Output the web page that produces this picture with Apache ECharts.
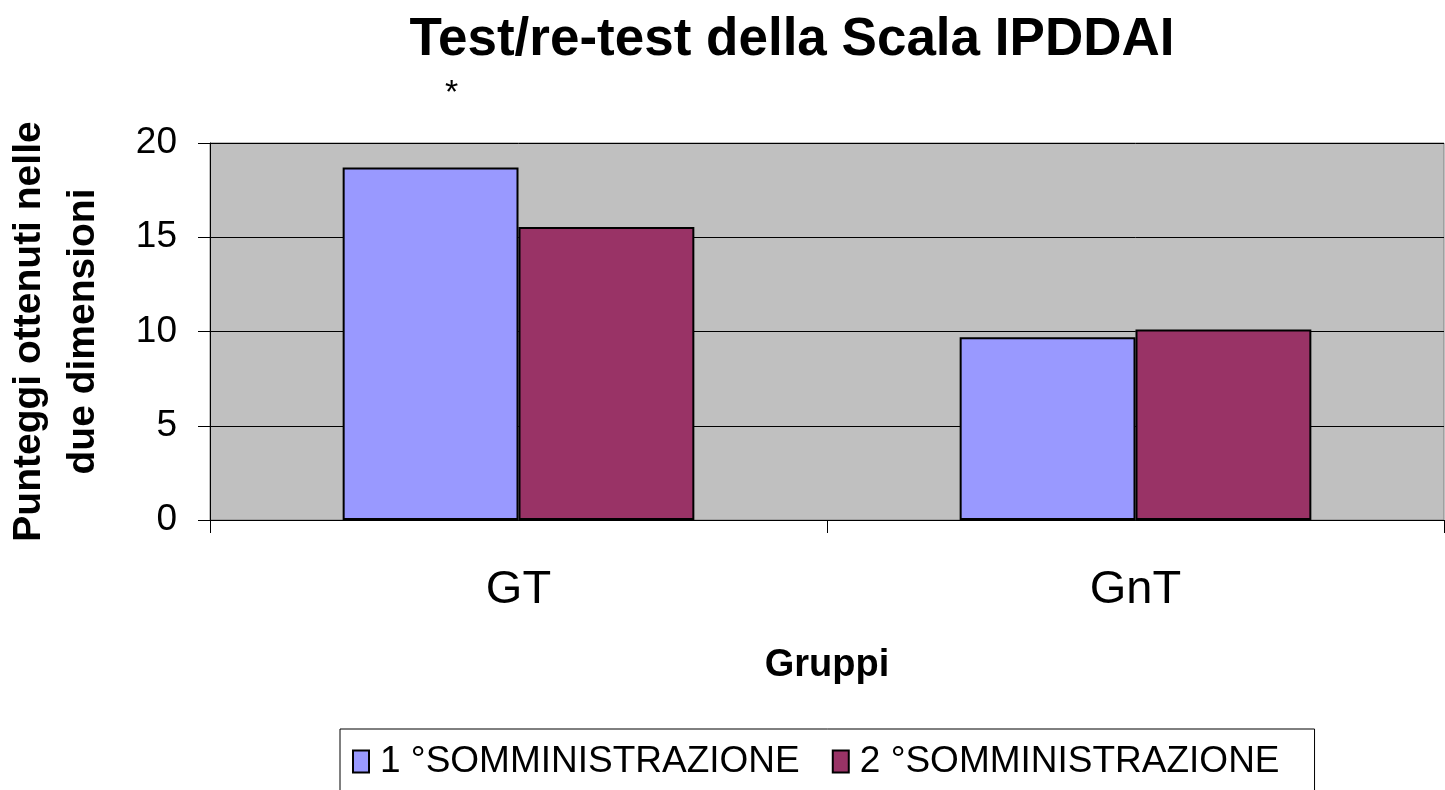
<!DOCTYPE html>
<html>
<head>
<meta charset="utf-8">
<script src="https://cdn.jsdelivr.net/npm/echarts@6/dist/echarts.min.js"></script>
<style>
  html, body { margin: 0; padding: 0; background: #fff; }
  #chart { width: 1445px; height: 790px; }
</style>
</head>
<body>
<div id="chart"></div>
<script>
// dati
const gruppi = ['GT', 'GnT']
const prima = [18.7, 9.7]
const seconda = [15.55, 10.1]
const nomiSerie = ['1 °SOMMINISTRAZIONE', '2 °SOMMINISTRAZIONE']

const chart = echarts.init(document.getElementById('chart'))
const font = 'Liberation Sans, Arial, sans-serif'

chart.setOption({
  animation: false,
  textStyle: { fontFamily: font },
  title: {
    text: 'Test/re-test della Scala IPDDAI',
    left: 787,
    textAlign: 'center',
    top: 9,
    textStyle: { fontSize: 53, fontWeight: 'bold', color: '#000', fontFamily: font }
  },
  graphic: [
    {
      type: 'text',
      left: 445,
      top: 77,
      style: { text: '*', fontSize: 34, fill: '#000', font: '34px ' + font }
    }
  ],
  grid: {
    left: 210,
    right: 1,
    top: 143,
    bottom: 270,
    outerBoundsMode: 'none',
    containLabel: false,
    show: true,
    backgroundColor: '#C0C0C0',
    borderColor: '#808080',
    borderWidth: 1
  },
  legend: {
    data: nomiSerie,
    left: 340,
    top: 729,
    padding: [14, 35, 24, 12],
    itemGap: 32,
    itemWidth: 16,
    itemHeight: 22,
    icon: 'rect',
    itemStyle: { borderColor: '#000', borderWidth: 2 },
    borderColor: '#000',
    borderWidth: 1,
    textStyle: { fontSize: 37, color: '#000', fontFamily: font, padding: [0, 0, 0, 6] }
  },
  xAxis: {
    type: 'category',
    data: gruppi,
    name: 'Gruppi',
    nameLocation: 'middle',
    nameGap: 127,
    nameTextStyle: { fontSize: 38, fontWeight: 'bold', color: '#000' },
    axisLine: { lineStyle: { color: '#000', width: 1 } },
    axisTick: { show: true, length: 13, lineStyle: { color: '#000' } },
    axisLabel: { fontSize: 47, color: '#000', margin: 47 }
  },
  yAxis: {
    type: 'value',
    min: 0,
    max: 20,
    interval: 5,
    name: 'Punteggi ottenuti nelle\ndue dimensioni',
    nameLocation: 'middle',
    nameGap: 100,
    nameTextStyle: { fontSize: 39, fontWeight: 'bold', color: '#000', lineHeight: 54 },
    axisLine: { show: true, lineStyle: { color: '#000', width: 1 } },
    axisTick: { show: true, length: 12, lineStyle: { color: '#000' } },
    axisLabel: { fontSize: 37, color: '#000', margin: 33 },
    splitLine: { show: true, lineStyle: { color: '#000', width: 1 } }
  },
  series: [
    {
      name: nomiSerie[0],
      type: 'bar',
      data: prima,
      barGap: '0%',
      barCategoryGap: '43%',
      itemStyle: { color: '#9999FF', borderColor: '#000', borderWidth: 2 }
    },
    {
      name: nomiSerie[1],
      type: 'bar',
      data: seconda,
      itemStyle: { color: '#993366', borderColor: '#000', borderWidth: 2 }
    }
  ]
})
</script>
</body>
</html>
